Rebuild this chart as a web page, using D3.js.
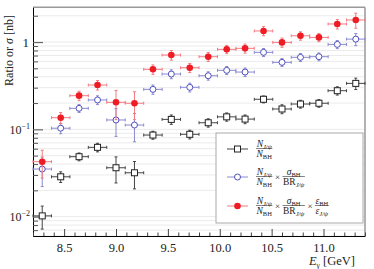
<!DOCTYPE html>
<html><head><meta charset="utf-8">
<script src="https://cdn.jsdelivr.net/npm/d3@7"></script>
<style>
body{margin:0;background:#fff}
text{font-family:"Liberation Serif","DejaVu Serif",serif;fill:#222}
</style>
</head><body>
<svg id="c" width="374" height="269"></svg>
<script>
// ---- data ----
const energies = [8.289, 8.467, 8.644, 8.822, 9.000, 9.178, 9.356, 9.533, 9.711, 9.889, 10.067, 10.244, 10.422, 10.600, 10.778, 10.956, 11.133, 11.311];
const binHalfWidth = 0.0889;
const ratioN = [0.0102, 0.0286, 0.0486, 0.0622, 0.0363, 0.0318, 0.086, 0.130, 0.0877, 0.119, 0.139, 0.131, 0.221, 0.171, 0.195, 0.199, 0.277, 0.336];
const ratioNErr = [0.003, 0.004, 0.005, 0.007, 0.012, 0.011, 0.009, 0.016, 0.010, 0.013, 0.015, 0.015, 0.020, 0.020, 0.020, 0.020, 0.030, 0.050];
const sigmaBR = [0.0351, 0.103, 0.174, 0.217, 0.128, 0.112, 0.287, 0.430, 0.303, 0.411, 0.474, 0.453, 0.762, 0.585, 0.668, 0.679, 0.94, 1.08];
const sigmaBRErr = [0.013, 0.014, 0.018, 0.025, 0.045, 0.040, 0.035, 0.050, 0.035, 0.045, 0.050, 0.050, 0.080, 0.060, 0.070, 0.070, 0.10, 0.17];
const sigmaEff = [0.0426, 0.136, 0.243, 0.322, 0.204, 0.199, 0.487, 0.710, 0.508, 0.679, 0.825, 0.847, 1.34, 0.99, 1.18, 1.13, 1.61, 1.79];
const sigmaEffErr = [0.015, 0.020, 0.030, 0.040, 0.075, 0.070, 0.060, 0.090, 0.060, 0.080, 0.090, 0.100, 0.16, 0.12, 0.13, 0.12, 0.20, 0.35];
const xTicks = [8.5, 9.0, 9.5, 10.0, 10.5, 11.0];
const yMajorTicks = [0.01, 0.1, 1];

// ---- layout ----
const svg = d3.select("#c");
const L = 33, R = 365, T = 7.3, B = 236;
const x = d3.scaleLinear().domain([8.2, 11.4]).range([L, R]);
const y = d3.scaleLog().domain([0.006, 2.5]).range([B, T]);

// gridlines at every log tick
const yAll = [];
for (let e = -3; e <= 0; e++) for (let m = 1; m <= 9; m++) {
  const v = m * Math.pow(10, e);
  if (v >= 0.006 && v <= 2.5) yAll.push(v);
}
const yMinor = yAll.filter(v => !yMajorTicks.some(t => Math.abs(t - v) < 1e-9));
svg.append("g").selectAll("line").data(yAll).join("line")
  .attr("x1", L).attr("x2", R).attr("y1", d => y(d)).attr("y2", d => y(d))
  .attr("stroke", "#ebebeb").attr("stroke-width", 1);

// frame
svg.append("line").attr("x1", L).attr("x2", R).attr("y1", T).attr("y2", T).attr("stroke", "#999").attr("stroke-width", 1.5);
svg.append("line").attr("x1", R).attr("x2", R).attr("y1", T).attr("y2", B).attr("stroke", "#999").attr("stroke-width", 1.5);

// y axis
const yAx = svg.append("g").attr("transform", `translate(${L},0)`)
  .call(d3.axisLeft(y).tickValues(yMajorTicks).tickSizeInner(-10).tickSizeOuter(0).tickFormat(""));
yAx.select(".domain").attr("stroke", "#000");
yAx.selectAll(".tick line").attr("stroke", "#666").attr("stroke-width", 1.2);
svg.append("g").attr("transform", `translate(${L},0)`)
  .call(d3.axisLeft(y).tickValues(yMinor).tickSizeInner(-5).tickSizeOuter(0).tickFormat(""))
  .call(g => g.select(".domain").remove())
  .selectAll(".tick line").attr("stroke", "#555");

const yLab = svg.append("g");
yLab.append("text").attr("x", 29).attr("y", y(1) + 4.5).attr("text-anchor", "end").attr("font-size", 13).text("1");
[[0.1, "−1"], [0.01, "−2"]].forEach(([v, ex]) => {
  const t = yLab.append("text").attr("x", 30).attr("y", y(v) + 4.5).attr("text-anchor", "end").attr("font-size", 12);
  t.append("tspan").text("10");
  t.append("tspan").attr("dy", -5).attr("font-size", 8).text(ex);
});

// x axis
const xMinor = d3.range(82, 115).map(d => d / 10).filter(v => !xTicks.some(t => Math.abs(t - v) < 1e-9));
const xAx = svg.append("g").attr("transform", `translate(0,${B})`)
  .call(d3.axisBottom(x).tickValues(xTicks).tickSizeInner(-7).tickSizeOuter(0).tickPadding(4).tickFormat(d3.format(".1f")));
xAx.select(".domain").attr("stroke", "#000");
xAx.selectAll(".tick line").attr("stroke", "#444");
xAx.selectAll(".tick text").attr("font-size", 12.5).attr("font-family", "Liberation Serif").attr("fill", "#222").attr("dy", "0.95em");
svg.append("g").attr("transform", `translate(0,${B})`)
  .call(d3.axisBottom(x).tickValues(xMinor).tickSizeInner(-3.5).tickSizeOuter(0).tickFormat(""))
  .call(g => g.select(".domain").remove())
  .selectAll(".tick line").attr("stroke", "#444");

// axis titles
const xt = svg.append("text").attr("x", 355).attr("y", 265).attr("text-anchor", "end").attr("font-size", 12.5);
xt.append("tspan").attr("font-style", "italic").text("E");
xt.append("tspan").attr("font-size", 7.5).attr("dy", 2.5).text("γ");
xt.append("tspan").attr("dy", -2.5).text(" [GeV]");
const yt = svg.append("text").attr("transform", "translate(13,15) rotate(-90)").attr("text-anchor", "end").attr("font-size", 12);
yt.append("tspan").text("Ratio or ");
yt.append("tspan").attr("font-style", "italic").text("σ");
yt.append("tspan").text(" [nb]");

// ---- series ----
function series(vals, errs, color, errColor, kind) {
  const g = svg.append("g");
  const cap = 1.5;
  vals.forEach((v, i) => {
    const cx = x(energies[i]), cy = y(v);
    const x0 = x(energies[i] - binHalfWidth), x1 = x(energies[i] + binHalfWidth);
    const y0 = y(v - errs[i]), y1 = y(v + errs[i]);
    const eg = g.append("g").attr("stroke", errColor).attr("stroke-width", 1);
    eg.append("line").attr("x1", x0).attr("x2", x1).attr("y1", cy).attr("y2", cy);
    eg.append("line").attr("x1", cx).attr("x2", cx).attr("y1", y0).attr("y2", y1);
    eg.append("line").attr("x1", x0).attr("x2", x0).attr("y1", cy - cap).attr("y2", cy + cap);
    eg.append("line").attr("x1", x1).attr("x2", x1).attr("y1", cy - cap).attr("y2", cy + cap);
    eg.append("line").attr("x1", cx - cap).attr("x2", cx + cap).attr("y1", y0).attr("y2", y0);
    eg.append("line").attr("x1", cx - cap).attr("x2", cx + cap).attr("y1", y1).attr("y2", y1);
    marker(g, cx, cy, color, kind);
  });
}
function marker(g, cx, cy, color, kind) {
  if (kind === "square") {
    g.append("rect").attr("x", cx - 3).attr("y", cy - 3).attr("width", 6).attr("height", 6)
      .attr("fill", "#fff").attr("stroke", color).attr("stroke-width", 1);
  } else if (kind === "open") {
    g.append("circle").attr("cx", cx).attr("cy", cy).attr("r", 3)
      .attr("fill", "#fff").attr("stroke", color).attr("stroke-width", 1);
  } else {
    g.append("circle").attr("cx", cx).attr("cy", cy).attr("r", 3.3).attr("fill", color);
  }
}
series(ratioN, ratioNErr, "#222", "#444", "square");
series(sigmaBR, sigmaBRErr, "#5050c0", "#8a8ad0", "open");
series(sigmaEff, sigmaEffErr, "#ee1c25", "#f47a80", "filled");

// ---- legend ----
const lg = svg.append("g");
lg.append("rect").attr("x", 216).attr("y", 133).attr("width", 147).attr("height", 90)
  .attr("fill", "#fff").attr("stroke", "#aaa").attr("stroke-width", 1);
const entries = [
  {y: 149, color: "#222", line: "#444", kind: "square"},
  {y: 177, color: "#5050c0", line: "#8a8ad0", kind: "open"},
  {y: 206, color: "#ee1c25", line: "#f47a80", kind: "filled"}
];
entries.forEach(e => {
  lg.append("line").attr("x1", 227).attr("x2", 248).attr("y1", e.y).attr("y2", e.y).attr("stroke", e.line);
  marker(lg, 237.5, e.y, e.color, e.kind);
});
const FS = 9.5, SS = 6.5;
function part(t, parts) {
  parts.forEach(p => {
    t.append("tspan").attr("font-style", p.it ? "italic" : null).text(p.t);
    if (p.sub) {
      t.append("tspan").attr("font-size", SS).attr("dy", 2.2).attr("font-style", p.subIt ? "italic" : null).text(p.sub);
    }
  });
}
function frac(x0, cy, num, den) {
  const tn = lg.append("text").attr("x", 0).attr("y", cy - 2.5).attr("font-size", FS).attr("text-anchor", "middle");
  part(tn, num);
  const td = lg.append("text").attr("x", 0).attr("y", cy + 7.5).attr("font-size", FS).attr("text-anchor", "middle");
  part(td, den);
  const w = Math.max(tn.node().getComputedTextLength(), td.node().getComputedTextLength()) + 1;
  tn.attr("x", x0 + w / 2); td.attr("x", x0 + w / 2);
  lg.append("line").attr("x1", x0).attr("x2", x0 + w).attr("y1", cy - 0.5).attr("y2", cy - 0.5).attr("stroke", "#333").attr("stroke-width", 0.6);
  return x0 + w;
}
function times(x0, cy) {
  const t = lg.append("text").attr("x", x0 + 2.5).attr("y", cy + 2.8).attr("font-size", 9).text("×");
  return x0 + 5 + t.node().getComputedTextLength();
}
const fN = [[{t: "N", it: true, sub: "J/ψ", subIt: true}], [{t: "N", it: true, sub: "BH"}]];
const fS = [[{t: "σ", it: true, sub: "BH"}], [{t: "BR", sub: "J/ψ", subIt: true}]];
const fE = [[{t: "ε", it: true, sub: "BH"}], [{t: "ε", it: true, sub: "J/ψ", subIt: true}]];
frac(256, entries[0].y, fN[0], fN[1]);
let px = frac(256, entries[1].y, fN[0], fN[1]);
px = times(px, entries[1].y);
frac(px, entries[1].y, fS[0], fS[1]);
px = frac(256, entries[2].y, fN[0], fN[1]);
px = times(px, entries[2].y);
px = frac(px, entries[2].y, fS[0], fS[1]);
px = times(px, entries[2].y);
frac(px, entries[2].y, fE[0], fE[1]);
</script>
</body></html>
